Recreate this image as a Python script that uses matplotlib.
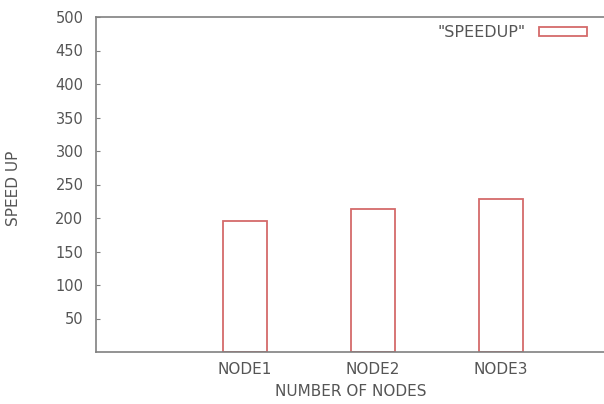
import numpy as np
import matplotlib
matplotlib.use("Agg")
import matplotlib.pyplot as plt

# Data
nodes = ["NODE1", "NODE2", "NODE3"]
speedup = [196, 213, 229]
yticks = [50, 100, 150, 200, 250, 300, 350, 400, 450, 500]

axis_color = "#808080"
text_color = "#555555"
bar_color = "#d46a6a"

fig = plt.figure(figsize=(6.04, 4.04), dpi=100)
# right edge just past the canvas, as in the cropped reference
ax = fig.add_axes([96 / 604, 1 - 352 / 404, 510 / 604, 335 / 404])

x = np.arange(1, len(nodes) + 1)
ax.bar(x, speedup, width=0.34, fill=False, edgecolor=bar_color,
       linewidth=1.3, label='"SPEEDUP"')

ax.set_xlim(-0.164, 3.82)
ax.set_ylim(0, 500)
ax.set_yticks(yticks)
ax.set_xticks(x)
ax.set_xticklabels(nodes)

for s in ax.spines.values():
    s.set_color(axis_color)
    s.set_linewidth(1.2)
ax.spines["right"].set_visible(False)

ax.tick_params(axis="y", direction="in", length=3, color=axis_color,
               labelsize=10.5, labelcolor=text_color, pad=9)
ax.tick_params(axis="x", length=0, labelsize=11, labelcolor=text_color, pad=7)

ax.set_xlabel("NUMBER OF NODES", fontsize=11, color=text_color, labelpad=5)
ax.set_ylabel("SPEED UP", fontsize=11, color=text_color)
ax.yaxis.set_label_coords(-75 / 510, 0.49)

leg = ax.legend(loc="upper right", frameon=False, markerfirst=False,
                fontsize=11.5, handlelength=3.0, handleheight=0.5,
                bbox_to_anchor=(497 / 510, 0.995), borderaxespad=0.0,
                handletextpad=0.8)
for t in leg.get_texts():
    t.set_color(text_color)

fig.savefig("out.png", dpi=100)
